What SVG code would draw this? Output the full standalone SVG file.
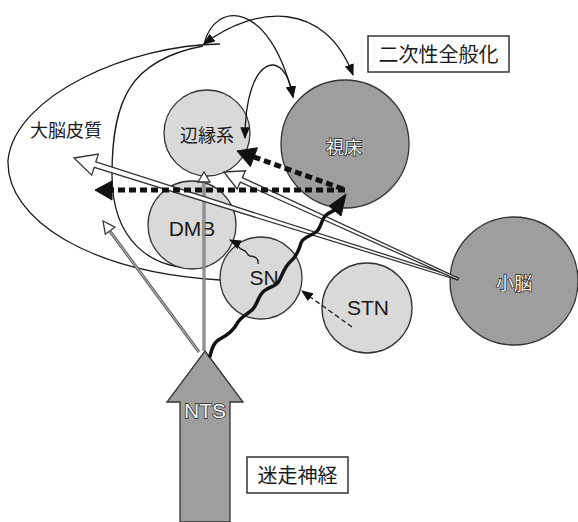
<svg xmlns="http://www.w3.org/2000/svg" width="578" height="522" viewBox="0 0 578 522">
<style>
  text { font-family: "Liberation Sans", "Noto Sans CJK JP", sans-serif; fill: #1a1a1a; }
  .lt { fill: #d9d9d9; stroke: #333; stroke-width: 1.3; }
  .dk { fill: #9e9e9e; stroke: #333; stroke-width: 1.3; }
  .lab { font-size: 21px; text-anchor: middle; }
  .jp { font-size: 18px; text-anchor: middle; }
  .bx { font-size: 20px; text-anchor: middle; }
  .wt { fill: #f6f6f6; stroke: #222; stroke-width: 1.4; paint-order: stroke; }
  .thin { fill: none; stroke: #1a1a1a; stroke-width: 1.3; }
  .dash { fill: none; stroke: #111; stroke-width: 5; stroke-dasharray: 7 4; }
  .wave { fill: none; stroke: #111; stroke-width: 3.5; stroke-linejoin: round; stroke-linecap: round; }
  .gray { fill: none; stroke: #666; stroke-width: 3; }
  .grayin { fill: none; stroke: #bbb; stroke-width: 1; }
  .hollow { fill: #fff; stroke: #333; stroke-width: 1.3; stroke-linejoin: miter; }
  .solid { fill: #111; stroke: #111; stroke-width: 1; }
  .box { fill: #fff; stroke: #333; stroke-width: 1.5; }
</style>
<defs>
  <marker id="ah" markerUnits="userSpaceOnUse" markerWidth="12" markerHeight="10" viewBox="0 0 10 8" refX="9" refY="4" orient="auto-start-reverse">
    <path d="M0,0 L10,4 L0,8 Z" fill="#111"/>
  </marker>
</defs>

<!-- cortex outline curves -->
<g id="cortex">
  <path class="thin" d="M220,44 C130,45 15,95 8,160 C6,220 90,272 220,280"/>
  <path class="thin" d="M203,46 C130,60 112,100 112,175 C112,240 150,270 200,268"/>
  <text class="jp" x="66" y="137">大脳皮質</text>
</g>

<g id="limbic">
  <circle class="lt" cx="207" cy="133" r="43"/>
  <text class="jp" x="207" y="142">辺縁系</text>
</g>
<g id="thalamus">
  <circle class="dk" cx="345" cy="144" r="64"/>
  <text class="jp wt" x="344" y="154">視床</text>
</g>
<g id="dmb">
  <circle class="lt" cx="192" cy="225" r="44"/>
  <text class="lab" x="192" y="236">DMB</text>
</g>
<g id="sn">
  <circle class="lt" cx="261" cy="278" r="41"/>
  <text class="lab" x="264" y="285">SN</text>
</g>
<g id="stn">
  <circle class="lt" cx="367" cy="308" r="45"/>
  <text class="lab" x="368" y="315">STN</text>
</g>
<g id="cerebellum">
  <circle class="dk" cx="514" cy="281" r="64"/>
  <text class="jp wt" x="514" y="290">小脳</text>
</g>
<g id="nts">
  <polygon fill="#9e9e9e" stroke="#333" stroke-width="1.3" points="205,351 243,402 230,402 230,522 180,522 180,402 167,402"/>
  <text class="lab wt" x="205" y="418">NTS</text>
</g>
<g id="label-secondary">
  <rect class="box" x="368" y="36" width="141" height="36"/>
  <text class="bx" x="438.5" y="62">二次性全般化</text>
</g>
<g id="label-vagus">
  <rect class="box" x="247" y="457" width="101" height="36"/>
  <text class="bx" x="297.5" y="483">迷走神経</text>
</g>

<g id="connectors">
  <!-- top arcs -->
  <path class="thin" d="M204,44 C215,0 270,0 293,97" marker-end="url(#ah)"/>
  <path class="thin" d="M204,44 C255,5 325,0 353,75" marker-start="url(#ah)" marker-end="url(#ah)"/>
  <path class="thin" d="M245,138 C245,55 285,45 293,97" marker-start="url(#ah)" marker-end="url(#ah)"/>

  <!-- gray lines from NTS -->
  <line class="gray" x1="204" y1="351" x2="204" y2="181"/>
  <line class="grayin" x1="204" y1="351" x2="204" y2="181"/>
  <polygon class="hollow" points="204,172 210,182 198,182"/>
  <line class="gray" x1="199" y1="352" x2="109" y2="230"/>
  <line class="grayin" x1="199" y1="352" x2="109" y2="230"/>
  <polygon class="hollow" points="103,221 114.9,227.2 105.3,234.2"/>

  <!-- cerebellum tubes -->
  <polygon class="hollow" points="74,158 98.3,154.1 95.8,161.9 458.3,278 457.7,280 94.2,167.3 91.7,175.1"/>
  <polygon class="hollow" points="224,172 245.5,170.8 242.3,177.6 458.4,278.1 457.6,279.9 240.3,182.2 237.1,189"/>

  <!-- thick dashed from thalamus -->
  <line class="dash" x1="345" y1="190" x2="112" y2="190"/>
  <polygon class="solid" points="95,190 112,181 112,200"/>
  <line class="dash" x1="343" y1="189" x2="254" y2="157"/>
  <polygon class="solid" points="237,151 257.4,147.8 250.4,166.6"/>

  <!-- thick wavy NTS to thalamus -->
  <path class="wave" d="M210,356 C212,348 214,342 220,339 C228,335 234,330 238,322 C242,316 248,314 253,309 C258,303 258,296 264,291 C270,286 276,287 279,281 C283,273 285,266 291,261 C297,256 299,250 301,243 C303,237 311,236 316,232 C321,228 321,221 325,216 C328,213 331,212 335,210"/>
  <polygon class="solid" points="346,194 329,206 341,216"/>

  <!-- thin wavy SN to DMB -->
  <path class="thin" stroke-width="1.8" d="M258,264 C259,258 254,256 250,256 C246,255 248,251 243,250 C238,249 239,245 235,243 C233,242 232,241 230,240" marker-end="url(#ah)"/>

  <!-- dashed STN to SN -->
  <line class="thin" stroke-width="2" stroke-dasharray="5 3" x1="352" y1="327" x2="302" y2="291" marker-end="url(#ah)"/>
</g>
</svg>
